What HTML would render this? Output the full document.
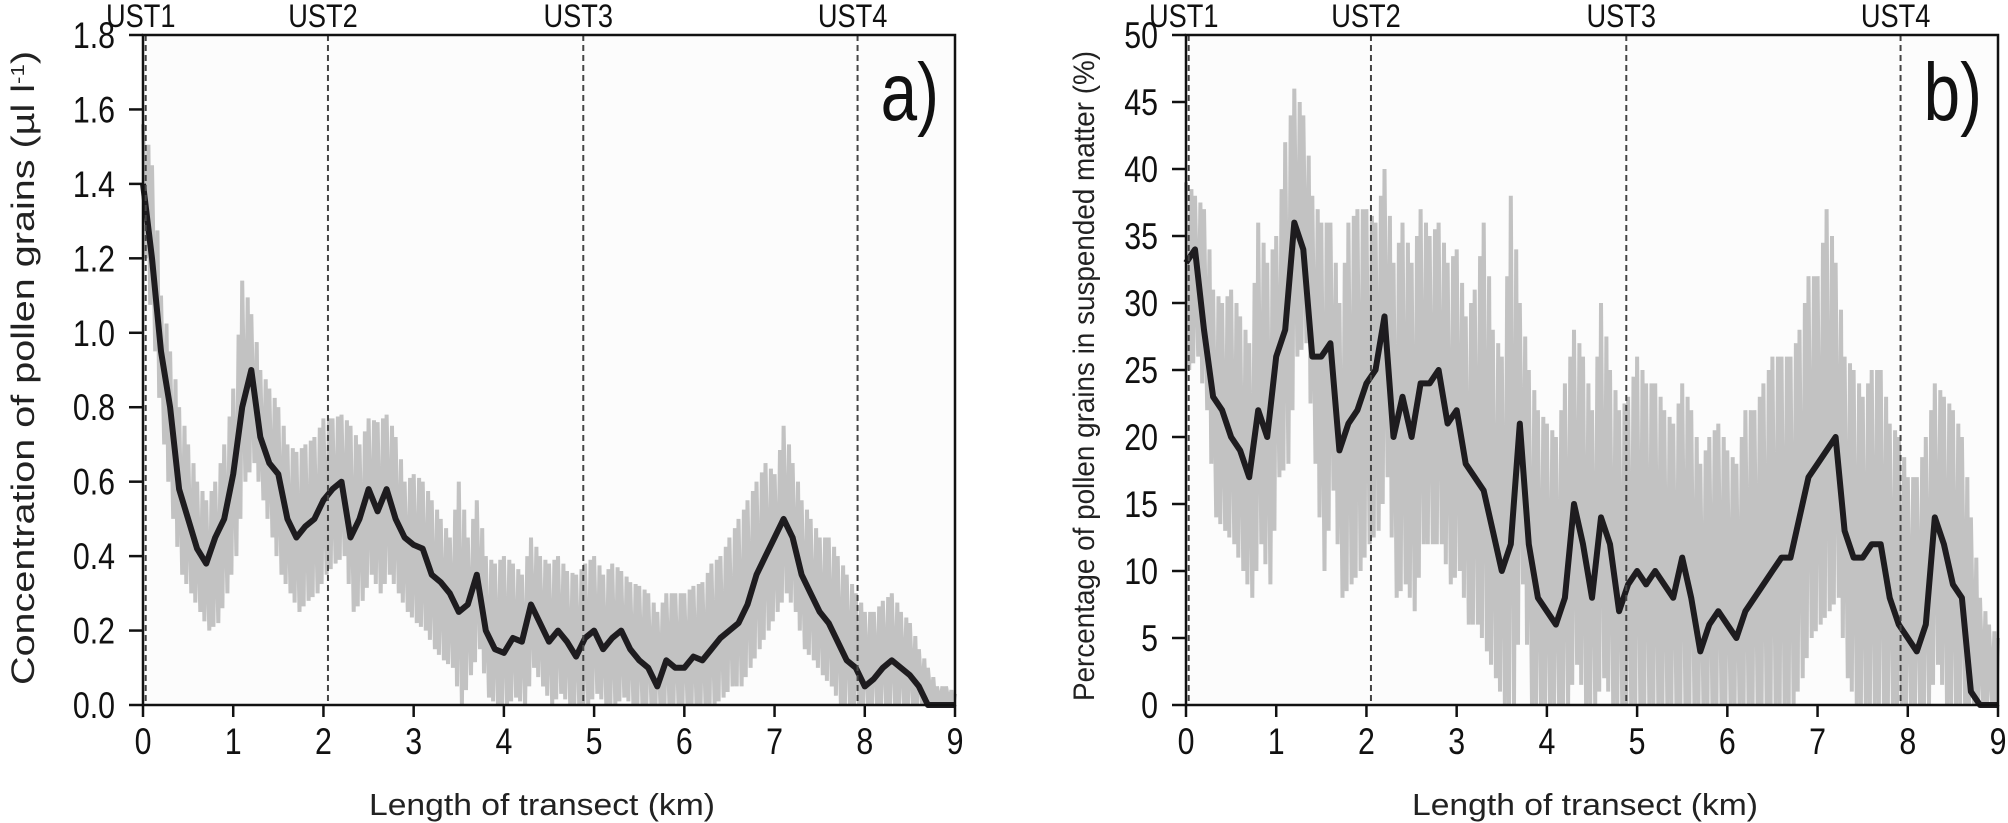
<!DOCTYPE html>
<html><head><meta charset="utf-8">
<style>
html,body{margin:0;padding:0;background:#fff;}
svg{display:block;font-family:"Liberation Sans",Arial,sans-serif;}
</style></head>
<body>
<svg id="chart" width="2008" height="823" viewBox="0 0 2008 823" xmlns="http://www.w3.org/2000/svg"></svg>
<script>
const xTicks=[0,1,2,3,4,5,6,7,8,9];
const ustNames=["UST1","UST2","UST3","UST4"];
const ustKm=[0.03,2.05,4.88,7.92];
const aYTicks=["0.0","0.2","0.4","0.6","0.8","1.0","1.2","1.4","1.6","1.8"];
const bYTicks=["0","5","10","15","20","25","30","35","40","45","50"];
const aMean=[1.40,1.2,0.95,0.8,0.58,0.5,0.42,0.38,0.45,0.5,0.62,0.8,0.9,0.72,0.65,0.62,0.5,0.45,0.48,0.5,0.55,0.58,0.6,0.45,0.5,0.58,0.52,0.58,0.5,0.45,0.43,0.42,0.35,0.33,0.3,0.25,0.27,0.35,0.2,0.15,0.14,0.18,0.17,0.27,0.22,0.17,0.2,0.17,0.13,0.18,0.2,0.15,0.18,0.2,0.15,0.12,0.1,0.05,0.12,0.1,0.1,0.13,0.12,0.15,0.18,0.2,0.22,0.27,0.35,0.4,0.45,0.5,0.45,0.35,0.3,0.25,0.22,0.17,0.12,0.1,0.05,0.07,0.1,0.12,0.1,0.08,0.05,0.0,0,0,0];
const aHigh=[1.56,1.45,1.1,0.95,0.8,0.7,0.6,0.55,0.6,0.7,0.85,1.14,1.05,0.9,0.85,0.8,0.7,0.68,0.7,0.72,0.77,0.77,0.78,0.75,0.7,0.77,0.76,0.78,0.72,0.6,0.62,0.6,0.55,0.5,0.45,0.6,0.45,0.55,0.4,0.38,0.4,0.38,0.35,0.45,0.4,0.38,0.4,0.36,0.35,0.38,0.4,0.35,0.38,0.36,0.33,0.32,0.3,0.25,0.3,0.3,0.3,0.32,0.33,0.38,0.4,0.45,0.5,0.55,0.6,0.65,0.62,0.75,0.65,0.55,0.5,0.45,0.45,0.4,0.35,0.3,0.25,0.25,0.28,0.3,0.25,0.22,0.15,0.1,0.05,0.05,0.03];
const aLow=[1.2,0.95,0.7,0.5,0.35,0.3,0.25,0.2,0.22,0.3,0.4,0.6,0.65,0.55,0.45,0.35,0.3,0.25,0.28,0.3,0.35,0.38,0.4,0.25,0.28,0.35,0.3,0.35,0.3,0.25,0.22,0.2,0.15,0.12,0.1,0.0,0.08,0.15,0.02,0.0,0.0,0.02,0.0,0.1,0.05,0.0,0.03,0.0,0.0,0.0,0.03,0.0,0.0,0.02,0.0,0.0,0.0,0.0,0.0,0.0,0.0,0.0,0.0,0.0,0.02,0.05,0.05,0.1,0.15,0.2,0.25,0.3,0.25,0.15,0.12,0.08,0.05,0.0,0.0,0.0,0.0,0.0,0.0,0.0,0.0,0.0,0.0,0.0,0,0,0];
const bMean=[33,34,28,23,22,20,19,17,22,20,26,28,36,34,26,26,27,19,21,22,24,25,29,20,23,20,24,24,25,21,22,18,17,16,13,10,12,21,12,8,7,6,8,15,12,8,14,12,7,9,10,9,10,9,8,11,8,4,6,7,6,5,7,8,9,10,11,11,14,17,18,19,20,13,11,11,12,12,8,6,5,4,6,14,12,9,8,1,0,0,0];
const bHigh=[39,38,37,31,30,31,29,27,36,33,35,42,46,44,38,36,36,30,36,37,37,36,40,33,36,33,37,35,36,33,34,29,31,36,28,26,38,30,25,22,21,20,24,28,26,22,30,25,22,23,26,24,24,22,21,24,22,18,20,21,19,18,22,22,24,26,26,26,28,32,32,37,33,26,25,23,25,25,21,20,17,17,20,24,23,22,20,14,8,6,5];
const bLow=[25,26,22,14,13,12,10,8,12,9,17,18,26,27,18,10,16,8,9,10,12,13,17,8,9,7,12,12,12,9,10,6,6,4,2,0,0,9,0,0,0,0,0,3,0,0,2,0,0,0,0,0,0,0,0,0,0,0,0,0,0,0,0,0,0,0,0,0,2,5,6,7,8,2,0,0,0,0,0,0,0,0,0,3,0,0,0,0,0,0,0];

const NS="http://www.w3.org/2000/svg";
const svg=document.getElementById("chart");
function mk(tag,attrs,parent){const e=document.createElementNS(NS,tag);for(const k in attrs)e.setAttribute(k,attrs[k]);(parent||svg).appendChild(e);return e;}
function ntext(parent,x,y,size,anchor,str,sx){
  const t=mk("text",{x:0,y:0,"font-size":size,"text-anchor":anchor,fill:"#111",transform:"translate("+x+","+y+") scale("+(sx||0.82)+",1)"},parent);
  t.textContent=str;
  return t;
}

function panel(opt){
  const g=mk("g",{});
  
  
  const L=opt.x0,R=opt.x1,T=35,B=705;
  const xs=v=>L+(v/9)*(R-L);
  const ys=v=>B-(v/opt.ymax)*(B-T);
  const bg=mk("rect",{x:L,y:T,width:R-L,height:B-T,fill:"#fcfcfc"},g);
  
  
  let d="";
  for(let i=0;i<opt.hi.length;i++){
    const x=i*0.1;
    d+=(i?"L":"M")+xs(x).toFixed(1)+","+ys(opt.hi[i]).toFixed(1);
    if(i<opt.hi.length-1){
      d+="L"+xs(x+0.035).toFixed(1)+","+ys(opt.lo[i]).toFixed(1);
      d+="L"+xs(x+0.06).toFixed(1)+","+ys((opt.hi[i]+opt.hi[i+1])/2).toFixed(1);
      d+="L"+xs(x+0.08).toFixed(1)+","+ys((opt.lo[i]+opt.lo[i+1])/2).toFixed(1);
    }
  }
  const gl=mk("path",{d:d,fill:"none",stroke:"#c2c2c2","stroke-width":4,"stroke-linejoin":"miter"},g);
  
  
  let dm="";
  opt.mean.forEach((v,i)=>{dm+=(i?"L":"M")+xs(i*0.1).toFixed(1)+","+ys(v).toFixed(1);});
  const ml=mk("path",{d:dm,fill:"none",stroke:"#1e1c1f","stroke-width":6,"stroke-linejoin":"round"},g);
  
  
  ustKm.forEach((k,i)=>{
    const ln=mk("line",{x1:xs(k),x2:xs(k),y1:T,y2:B,stroke:"#444","stroke-width":2,"stroke-dasharray":"6,4"},g);
    
    
    const t=ntext(g,xs(k)-5,27,32,"middle",ustNames[i],0.85);
    
    
  });
  const fr=mk("rect",{x:L,y:T,width:R-L,height:B-T,fill:"none",stroke:"#111","stroke-width":2.5},g);
  
  
  xTicks.forEach(v=>{
    const tk=mk("line",{x1:xs(v),x2:xs(v),y1:B,y2:B+12,stroke:"#111","stroke-width":2.5},g);
    
    
    const t=ntext(g,xs(v),754,37,"middle",String(v));
    
    
  });
  opt.yt.forEach(s=>{
    const v=parseFloat(s);
    const tk=mk("line",{x1:L-14,x2:L,y1:ys(v),y2:ys(v),stroke:"#111","stroke-width":2.5},g);
    
    
    const t=ntext(g,L-28,ys(v)+13,37,"end",s);
    
    
  });
  const xt=mk("text",{x:(L+R)/2+(opt.xtOff||0),y:815,"font-size":31,"text-anchor":"middle",fill:"#222",textLength:346,lengthAdjust:"spacingAndGlyphs"},g);
  xt.textContent="Length of transect (km)";
  
  
  const yt=mk("text",{x:0,y:0,"font-size":opt.ytSize,"text-anchor":"middle",fill:"#222",textLength:opt.ytLen,lengthAdjust:"spacingAndGlyphs",transform:"translate("+opt.ytX+","+opt.ytY+") rotate(-90)"},g);
  yt.innerHTML=opt.ytitle;
  
  
  const pl=ntext(g,R-16,120,82,"end",opt.label,0.8);
  
  
}
panel({name:"panel-a-concentration",x0:143,x1:955,ymax:1.8,yt:aYTicks,mean:aMean,hi:aHigh,lo:aLow,label:"a)",ytX:34,ytY:368,ytSize:32,ytLen:634,xtOff:-7,
  ytitle:'Concentration of pollen grains (µl l<tspan baseline-shift="super" font-size="18">-1</tspan>)'});
panel({name:"panel-b-percentage",x0:1186,x1:1998,ymax:50,yt:bYTicks,mean:bMean,hi:bHigh,lo:bLow,label:"b)",ytX:1094,ytY:376,ytSize:30,ytLen:650,xtOff:-7,
  ytitle:'Percentage of pollen grains in suspended matter (%)'});
</script>
</body></html>
